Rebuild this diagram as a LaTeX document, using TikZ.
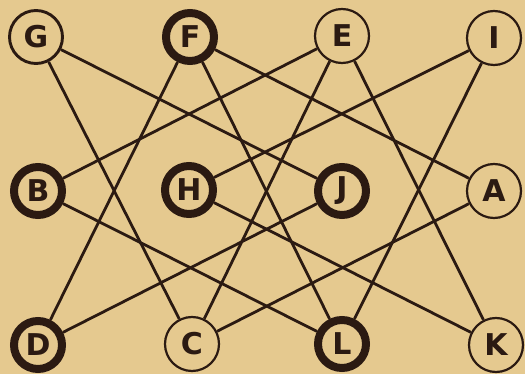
\documentclass[tikz,border=0pt]{standalone}
\usepackage{fontspec}
\setmainfont{DejaVu Sans}
\usepackage{xcolor}
\usepackage{tikz}
\definecolor{fondo}{HTML}{E5C98F}
\definecolor{tinta}{HTML}{2B1A12}
\tikzset{
  nudo/.style={circle,draw=tinta,fill=fondo,line width=2.2pt,minimum size=54pt,inner sep=0pt,text=tinta,font=\fontsize{30}{30}\selectfont\bfseries},
  nudomedio/.style={nudo,line width=2.9pt,minimum size=53pt},
  nudogrueso/.style={nudo,line width=8pt,minimum size=48pt},
  linea/.style={tinta,line width=2.8pt},
}

\begin{document}
\begin{tikzpicture}[x=1pt,y=-1pt]
  \fill[fondo] (0,0) rectangle (525,374);
  % fila de arriba
  \node[nudomedio] (g) at (36,37) {G};
  \node[nudogrueso] (f) at (190,37) {F};
  \node[nudo] (e) at (342,36) {E};
  \node[nudo] (i) at (494,38) {I};
  % fila del medio
  \node[nudogrueso] (b) at (38,191) {B};
  \node[nudogrueso] (h) at (189,190) {H};
  \node[nudogrueso] (j) at (342,191) {J};
  \node[nudo] (a) at (494,191) {A};
  % fila de abajo
  \node[nudogrueso] (d) at (38,345) {D};
  \node[nudo] (c) at (192,344) {C};
  \node[nudogrueso] (l) at (342,344) {L};
  \node[nudo] (k) at (496,345) {K};
  % lineas
  \draw[linea] (g) -- (j);
  \draw[linea] (g) -- (c);
  \draw[linea] (f) -- (d);
  \draw[linea] (f) -- (a);
  \draw[linea] (f) -- (l);
  \draw[linea] (e) -- (b);
  \draw[linea] (e) -- (c);
  \draw[linea] (e) -- (k);
  \draw[linea] (i) -- (h);
  \draw[linea] (i) -- (l);
  \draw[linea] (b) -- (l);
  \draw[linea] (h) -- (k);
  \draw[linea] (j) -- (d);
  \draw[linea] (a) -- (c);
\end{tikzpicture}
\end{document}
